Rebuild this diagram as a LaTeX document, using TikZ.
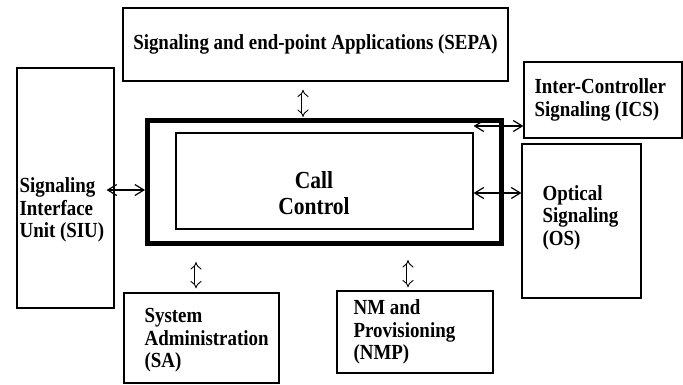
\documentclass[tikz,border=0pt]{standalone}
\usepackage{fontspec}
\setmainfont{Liberation Serif}[FakeStretch=0.88]
\usetikzlibrary{arrows.meta,positioning}
\tikzset{
  unit/.style={draw=black, line width=1.2pt, inner sep=0pt, fill=white},
  core/.style={unit, line width=5pt},
  tag/.style={align=left, inner sep=0pt, font=\fontsize{21.5}{22.5}\selectfont\bfseries},
  link/.style={{Straight Barb[length=9pt,width=11pt]}-{Straight Barb[length=9pt,width=11pt]}, line width=1.2pt},
  dlink/.style={{Implies[length=9pt,width=12pt]}-{Implies[length=9pt,width=12pt]}, double, double distance=3pt, line width=0.9pt}
}

\begin{document}
\begin{tikzpicture}[x=1pt, y=-1pt]
  \useasboundingbox (0,0) rectangle (683,384);

  % boxes
  \node[unit, minimum width=385pt, minimum height=73pt, font=\fontsize{21.5}{22.5}\selectfont\bfseries] (sepa) at (315.5,44.5)
    {Signaling and end-point Applications (SEPA)};
  \node[unit, minimum width=97pt, minimum height=240pt] (siu) at (65.5,188) {};
  \node[core, minimum width=354pt, minimum height=123pt] (outer) at (324.5,182) {};
  \node[unit, minimum width=297pt, minimum height=96pt] (inner) at (324.5,181) {};
  \node[unit, minimum width=158pt, minimum height=76pt] (ics) at (603,100) {};
  \node[unit, minimum width=119pt, minimum height=154pt] (os) at (581.5,221) {};
  \node[unit, minimum width=155pt, minimum height=90pt] (sa) at (201.5,338) {};
  \node[unit, minimum width=156pt, minimum height=82pt] (nmp) at (415,332) {};

  % texts
  \node[tag, align=center, font=\fontsize{24.5}{26}\selectfont\bfseries] (cc) at ([shift={(-10.5,12)}]inner.center) {Call\\Control};
  \node[tag, anchor=west] (siutxt) at ([shift={(3,22)}]siu.west) {Signaling\\Interface\\Unit (SIU)};
  \node[tag, anchor=west] (icstxt) at ([shift={(11,0)}]ics.west) {Inter-Controller\\Signaling (ICS)};
  \node[tag, anchor=west] (ostxt) at ([shift={(21,-3.5)}]os.west) {Optical\\Signaling\\(OS)};
  \node[tag, anchor=west] (satxt) at ([shift={(21,2.5)}]sa.west) {System\\Administration\\(SA)};
  \node[tag, anchor=west] (nmptxt) at ([shift={(17,0)}]nmp.west) {NM and\\Provisioning\\(NMP)};

  % connectors
  \draw[dlink] ([shift={(-12.5,8)}]sepa.south) -- ([shift={(-21.5,-1)}]outer.north);
  \draw[dlink] ([shift={(-128.5,16)}]outer.south) -- ([shift={(-5.5,-4)}]sa.north);
  \draw[dlink] ([shift={(83.5,14)}]outer.south) -- ([shift={(-7,-3)}]nmp.north);
  \draw[link] ([shift={(-8,2)}]siu.east) -- ([shift={(-8,2)}]siu.east -| outer.west) -- ++(8,0);
  \draw[link] ([shift={(0,26)}]ics.west) -- ([shift={(0,26)}]ics.west -| inner.east);
  \draw[link] ([shift={(0,12)}]inner.east) -- ([shift={(0,12)}]inner.east -| os.west);
\end{tikzpicture}
\end{document}
